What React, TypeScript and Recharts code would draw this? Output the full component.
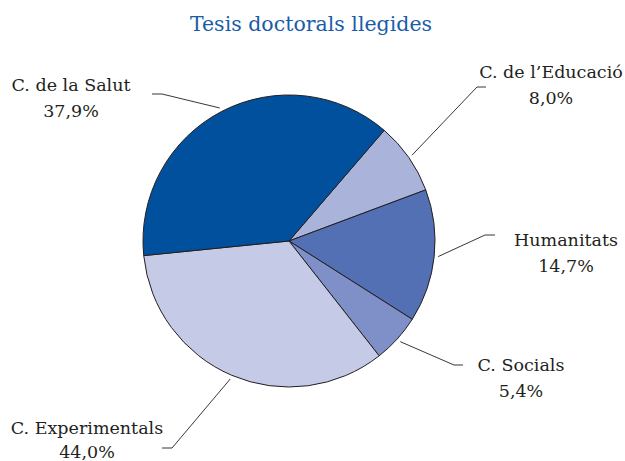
import { PieChart, Pie, Cell } from 'recharts';

// Slices in drawing order, clockwise from the Salut / Educació border
const categories = ['C. de l\u2019Educació', 'Humanitats', 'C. Socials', 'C. Experimentals', 'C. de la Salut'];
// Share of the pie each slice covers (%)
const shares = [8.0, 14.7, 5.4, 34.0, 37.9];
// Percentages as printed next to each slice (the source prints 44,0% for Experimentals)
const printedLabels = ['8,0%', '14,7%', '5,4%', '44,0%', '37,9%'];

const colors = ['#aab3da', '#5470b5', '#7f8fc7', '#c5cbe6', '#00509e'];

// Leader elbow / end and text anchor, relative to the pie centre
const labelLayout = [
  { ex: 188, ey: -154, hx: 197, tx: 262, ty: -163, lh: 25.5 },
  { ex: 196, ey: -6, hx: 206, tx: 277, ty: 5, lh: 25.5 },
  { ex: 165, ey: 124, hx: 174, tx: 232, ty: 130, lh: 25.5 },
  { ex: -117, ey: 207, hx: -127, tx: -202, ty: 193, lh: 23.5 },
  { ex: -127, ey: -147, hx: -137, tx: -218, ty: -150, lh: 25.5 },
];

const chartData = categories.map((name, i) => ({ name, value: shares[i] }));

const RADIAN = Math.PI / 180;
const FONT = '"DejaVu Serif", serif';

const renderLabel = (props: any) => {
  const { cx, cy, midAngle, outerRadius, index } = props;
  const layout = labelLayout[index];
  const r = outerRadius + 4;
  const sx = cx + r * Math.cos(-midAngle * RADIAN);
  const sy = cy + r * Math.sin(-midAngle * RADIAN);
  const ex = cx + layout.ex;
  const ey = cy + layout.ey;
  return (
    <g>
      <polyline
        points={`${sx},${sy} ${ex},${ey} ${cx + layout.hx},${ey}`}
        fill="none"
        stroke="#231f20"
        strokeWidth={0.9}
      />
      <text
        x={cx + layout.tx}
        y={cy + layout.ty}
        textAnchor="middle"
        fill="#231f20"
        fontFamily={FONT}
        fontSize={17.5}
      >
        <tspan x={cx + layout.tx}>{categories[index]}</tspan>
        <tspan x={cx + layout.tx} dy={layout.lh}>{printedLabels[index]}</tspan>
      </text>
    </g>
  );
};

export default function App() {
  return (
    <div style={{ position: 'absolute', left: 0, top: 0, width: 625, height: 461, background: '#fff' }}>
      <PieChart width={625} height={461} margin={{ top: 0, right: 0, bottom: 0, left: 0 }}>
        <text
          x={311}
          y={31}
          textAnchor="middle"
          fill="#1a5ca8"
          fontFamily={FONT}
          fontSize={20.5}
        >
          Tesis doctorals llegides
        </text>
        <Pie
          data={chartData}
          dataKey="value"
          nameKey="name"
          cx={289}
          cy={241}
          outerRadius={146}
          startAngle={49.3}
          endAngle={-310.7}
          stroke="#231f20"
          strokeWidth={1}
          label={renderLabel}
          labelLine={false}
          isAnimationActive={false}
        >
          {chartData.map((entry, i) => (
            <Cell key={entry.name} fill={colors[i]} />
          ))}
        </Pie>
      </PieChart>
    </div>
  );
}
